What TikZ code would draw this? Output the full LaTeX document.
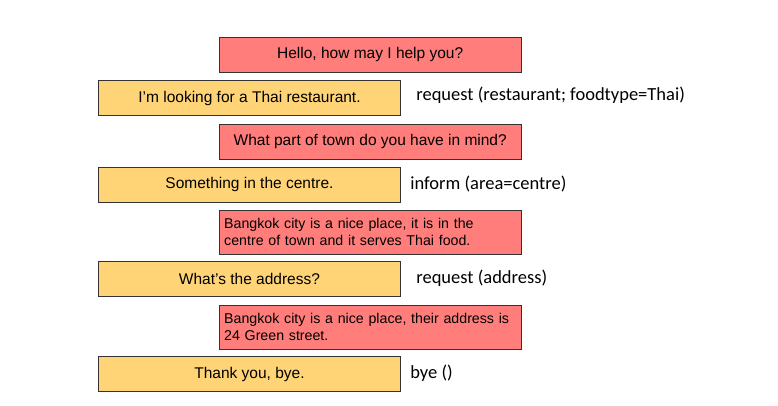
\documentclass[tikz,border=0pt]{standalone}
\usepackage{fontspec}
\setmainfont{Liberation Sans}
\newfontfamily\actfont{Carlito}
\usetikzlibrary{positioning}
\definecolor{sysred}{RGB}{255,125,122}
\definecolor{usryellow}{RGB}{255,212,118}
\tikzset{
  turn/.style={draw=black!80, line width=0.8pt, minimum width=301.5pt, minimum height=35pt, inner xsep=4.7pt, inner ysep=0pt, font=\fontsize{15.5}{18}\selectfont, align=center},
  sys/.style={turn, fill=sysred},
  usr/.style={turn, fill=usryellow},
  long/.style={text width=292pt, align=left, minimum height=44pt, font=\fontsize{14.2}{17}\selectfont},
  act/.style={inner sep=0pt, anchor=west, font=\actfont\fontsize{18.5}{22}\selectfont}
}
\begin{document}
\begin{tikzpicture}[x=1pt, y=-1pt]
\useasboundingbox (0,0) rectangle (778,406);
% system turns
\node[sys] (s1) at (370.2,54.8) {Hello, how may I help you?};
\node[sys] (s2) at (370.2,141.5) {What part of town do you have in mind?};
\node[sys, long] (s3) at (370.2,232.2) {Bangkok city is a nice place, it is in the\\centre of town and it serves Thai food.};
\node[sys, long] (s4) at (370.2,327) {Bangkok city is a nice place, their address is\\24 Green street.};
% user turns
\node[usr] (u1) at (249.5,98.2) {I’m looking for a Thai restaurant.};
\node[usr] (u2) at (249.5,184.5) {Something in the centre.};
\node[usr] (u3) at (249.5,279.2) {What’s the address?};
\node[usr] (u4) at (249.5,374.2) {Thank you, bye.};
% dialogue acts
\node[act, right=15.5pt of u1, yshift=3pt] (a1) {request (restaurant; foodtype=Thai)};
\node[act, right=9.5pt of u2] (a2) {inform (area=centre)};
\node[act, right=15.5pt of u3, yshift=1pt] (a3) {request (address)};
\node[act, right=9.5pt of u4, yshift=1pt] (a4) {bye ()};
\end{tikzpicture}
\end{document}
